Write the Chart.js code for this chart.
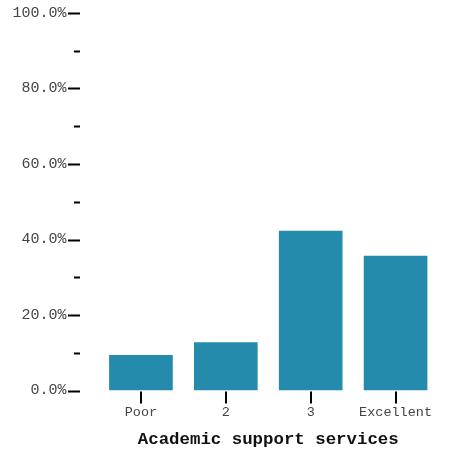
<!DOCTYPE html>
<html lang="en">
<head>
    <meta charset="UTF-8">
    <title>Academic support services</title>
    <script src="https://cdn.jsdelivr.net/npm/chart.js"></script>
</head>
<style>
    body { margin: 0; background: #fff; }
    #wrap { width: 449px; height: 453px; position: relative; }
</style>
<body>
    <div id="wrap">
        <canvas id="barras"></canvas>
    </div>
</body>
</html>

<script>
    const categories = ['Poor', '2', '3', 'Excellent'];
    const percentages = [9.4, 12.8, 42.3, 35.7];
    const yTicks = [0, 20, 40, 60, 80, 100];

    const mono = "'Liberation Mono', 'Courier New', monospace";

    // tick marks sit away from the plot, so draw them by hand from the scales
    const tickMarks = {
      id: 'tickMarks',
      afterDraw(chart) {
        const c = chart.ctx;
        const x = chart.scales.x;
        const y = chart.scales.y;
        const left = chart.chartArea.left;
        const base = y.getPixelForValue(0);
        c.save();
        c.strokeStyle = '#000';
        c.lineWidth = 2;
        for (let v = 0; v <= 100; v += 10) {
          const py = Math.round(y.getPixelForValue(v)) + 0.5;
          const major = yTicks.includes(v);
          c.beginPath();
          c.moveTo(left - (major ? 30.5 : 24.5), py);
          c.lineTo(left - 18.5, py);
          c.stroke();
        }
        categories.forEach((cat, i) => {
          const px = Math.round(x.getPixelForValue(i));
          c.beginPath();
          c.moveTo(px, base + 1);
          c.lineTo(px, base + 13);
          c.stroke();
        });
        c.restore();
      }
    };

    new Chart(document.getElementById('barras'), {
      type: 'bar',
      data: {
        labels: categories,
        datasets: [{
          data: percentages,
          backgroundColor: '#248bad',
          categoryPercentage: 1,
          barPercentage: 0.75
        }]
      },
      options: {
        responsive: true,
        maintainAspectRatio: false,
        animation: false,
        layout: { padding: { top: 13, right: 11, bottom: 0, left: 0 } },
        plugins: {
          legend: { display: false },
          tooltip: { enabled: false }
        },
        scales: {
          y: {
            min: 0,
            max: 100,
            border: { display: false },
            grid: { display: false, drawTicks: false },
            afterFit(scale) {
              scale.width = 98.5;
              scale.paddingTop = 0;
              scale.paddingBottom = 0;
            },
            ticks: {
              stepSize: 20,
              padding: 32,
              color: '#444',
              font: { family: mono, size: 15 },
              callback: v => v.toFixed(1) + '%'
            }
          },
          x: {
            border: { display: false },
            grid: { display: false, drawTicks: false },
            afterFit(scale) { scale.height = 62.5; },
            ticks: {
              padding: 14,
              color: '#444',
              font: { family: mono, size: 13.5 },
              maxRotation: 0
            },
            title: {
              display: true,
              text: 'Academic support services',
              color: '#111',
              font: { family: mono, size: 17.4, weight: 'bold' },
              padding: { top: 6, bottom: 3 }
            }
          }
        }
      },
      plugins: [tickMarks]
    });
</script>
